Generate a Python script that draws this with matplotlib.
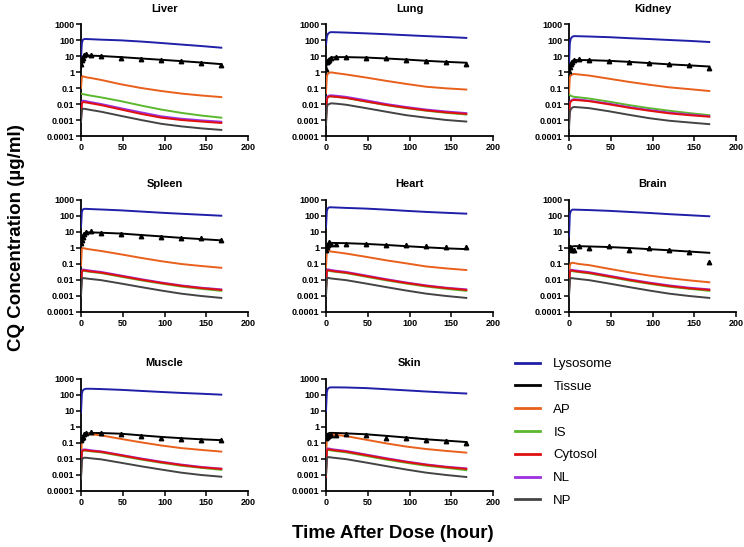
import matplotlib
matplotlib.use("Agg")
import matplotlib.pyplot as plt
from matplotlib.lines import Line2D

# ---------------- data ----------------
organs = ["Liver", "Lung", "Kidney", "Spleen", "Heart", "Brain", "Muscle", "Skin"]
series_names = ["Lysosome", "Tissue", "AP", "IS", "Cytosol", "NL", "NP"]
series_colors = ["#1f1fa8", "#000000", "#e8601c", "#5cb82e", "#e01010", "#9b30e0", "#444444"]

t_model = [0, 1, 2, 4, 6, 12, 24, 48, 72, 96, 120, 144, 168]
t_obs = [0.5, 1, 2, 4, 6, 12, 24, 48, 72, 96, 120, 144, 168]

# Liver
liver_lys = [8, 60, 100, 115, 115, 112, 105, 95, 80, 65, 52, 42, 33]
liver_tis = [1.5, 6, 9, 11, 11, 10.5, 10, 8.5, 7, 5.8, 4.8, 3.9, 3.1]
liver_ap = [0.1, 0.45, 0.55, 0.5, 0.47, 0.42, 0.32, 0.17, 0.1, 0.065, 0.045, 0.034, 0.027]
liver_is = [0.045, 0.043, 0.042, 0.04, 0.038, 0.033, 0.026, 0.015, 0.008, 0.0045, 0.0028, 0.0019, 0.0014]
liver_cyt = [0.001, 0.01, 0.013, 0.013, 0.0125, 0.011, 0.0085, 0.0045, 0.0024, 0.0014, 0.001, 0.0008, 0.00065]
liver_nl = [0.002, 0.013, 0.016, 0.016, 0.015, 0.013, 0.01, 0.0054, 0.003, 0.0017, 0.0012, 0.00095, 0.00078]
liver_np = [0.0008, 0.004, 0.005, 0.005, 0.0048, 0.0042, 0.0033, 0.0018, 0.001, 0.00058, 0.0004, 0.0003, 0.00024]
liver_obs = [3, 6, 7, 12, 14, 12, 9.5, 8, 6.5, 5.5, 4.8, 3.8, 2.9]

# Lung
lung_lys = [50, 150, 230, 290, 310, 305, 290, 260, 230, 200, 175, 155, 135]
lung_tis = [1.5, 4, 5.5, 7, 8, 8.5, 8.5, 8, 7, 6, 5, 4.3, 3.8]
lung_ap = [0.05, 0.5, 0.75, 0.9, 0.95, 0.85, 0.7, 0.45, 0.28, 0.18, 0.12, 0.095, 0.08]
lung_is = [0.001, 0.02, 0.028, 0.03, 0.03, 0.028, 0.024, 0.014, 0.0085, 0.0055, 0.0038, 0.0028, 0.0022]
lung_cyt = [0.0008, 0.018, 0.026, 0.03, 0.03, 0.028, 0.024, 0.0145, 0.0088, 0.0058, 0.004, 0.003, 0.0024]
lung_nl = [0.002, 0.022, 0.03, 0.034, 0.035, 0.033, 0.028, 0.017, 0.01, 0.0065, 0.0045, 0.0034, 0.0027]
lung_np = [0.0005, 0.006, 0.009, 0.01, 0.011, 0.0105, 0.009, 0.0055, 0.0033, 0.002, 0.0014, 0.001, 0.0008]
lung_obs = [1.5, 4, 5, 6, 8, 8.5, 8.5, 8, 7, 6, 5, 4.3, 3]

# Kidney
kidney_lys = [3, 60, 120, 160, 175, 172, 165, 150, 130, 115, 100, 88, 75]
kidney_tis = [1.2, 2.5, 3.5, 5, 5.5, 5.6, 5.5, 5, 4.3, 3.6, 3, 2.6, 2.2]
kidney_ap = [0.05, 0.45, 0.6, 0.7, 0.75, 0.7, 0.6, 0.38, 0.24, 0.16, 0.11, 0.085, 0.065]
kidney_is = [0.04, 0.036, 0.033, 0.03, 0.028, 0.026, 0.022, 0.014, 0.0085, 0.0055, 0.0038, 0.0027, 0.002]
kidney_cyt = [0.0006, 0.01, 0.014, 0.017, 0.018, 0.017, 0.015, 0.0095, 0.0058, 0.0038, 0.0026, 0.002, 0.0016]
kidney_nl = [0.001, 0.012, 0.016, 0.019, 0.02, 0.019, 0.016, 0.0105, 0.0064, 0.0042, 0.0029, 0.0022, 0.0017]
kidney_np = [0.0003, 0.003, 0.0045, 0.006, 0.0065, 0.0062, 0.0055, 0.0035, 0.0021, 0.0013, 0.0009, 0.0007, 0.00055]
kidney_obs = [1.2, 2, 3, 4.5, 6, 6.5, 5.5, 5, 4, 3.5, 3.2, 2.8, 1.8]

# Spleen
spleen_lys = [20, 180, 250, 280, 280, 270, 255, 225, 190, 160, 138, 120, 104]
spleen_tis = [1.5, 4, 6, 8.5, 9.5, 9.5, 9, 8, 6.5, 5.3, 4.3, 3.6, 3]
spleen_ap = [0.08, 0.8, 1.0, 0.95, 0.9, 0.8, 0.65, 0.4, 0.24, 0.15, 0.1, 0.075, 0.058]
spleen_is = [0.003, 0.03, 0.037, 0.037, 0.035, 0.032, 0.027, 0.016, 0.0095, 0.006, 0.0039, 0.0028, 0.0021]
spleen_cyt = [0.002, 0.032, 0.04, 0.04, 0.038, 0.034, 0.029, 0.0175, 0.0104, 0.0065, 0.0043, 0.0031, 0.0024]
spleen_nl = [0.004, 0.036, 0.045, 0.044, 0.042, 0.038, 0.032, 0.019, 0.0113, 0.007, 0.0046, 0.0033, 0.0026]
spleen_np = [0.001, 0.01, 0.013, 0.013, 0.0125, 0.0115, 0.0098, 0.006, 0.0036, 0.0022, 0.0014, 0.001, 0.00076]
spleen_obs = [2, 3, 5, 8, 10, 11, 8.5, 7.5, 6, 5, 4.5, 4, 3]

# Heart
heart_lys = [20, 200, 300, 350, 350, 340, 320, 290, 250, 210, 180, 158, 140]
heart_tis = [0.6, 1.3, 1.8, 2.1, 2.1, 2.05, 2, 1.8, 1.55, 1.3, 1.1, 0.95, 0.85]
heart_ap = [0.06, 0.55, 0.7, 0.65, 0.6, 0.55, 0.45, 0.28, 0.17, 0.11, 0.07, 0.053, 0.042]
heart_is = [0.003, 0.032, 0.038, 0.037, 0.035, 0.032, 0.027, 0.016, 0.0095, 0.006, 0.0039, 0.0028, 0.0021]
heart_cyt = [0.002, 0.034, 0.041, 0.04, 0.038, 0.034, 0.029, 0.0175, 0.0104, 0.0065, 0.0043, 0.0031, 0.0024]
heart_nl = [0.004, 0.038, 0.046, 0.045, 0.042, 0.038, 0.032, 0.019, 0.0113, 0.007, 0.0046, 0.0033, 0.0026]
heart_np = [0.001, 0.011, 0.014, 0.013, 0.0125, 0.0115, 0.0098, 0.006, 0.0036, 0.0022, 0.0014, 0.001, 0.00076]
heart_obs = [0.8, 1.1, 1.5, 2.5, 1.9, 1.8, 1.7, 1.7, 1.6, 1.45, 1.3, 1.2, 1.15]

# Brain
brain_lys = [5, 120, 200, 250, 250, 245, 235, 210, 180, 155, 130, 112, 96]
brain_tis = [1.0, 1.1, 1.2, 1.25, 1.3, 1.3, 1.25, 1.15, 1.0, 0.85, 0.72, 0.6, 0.5]
brain_ap = [0.01, 0.08, 0.11, 0.12, 0.115, 0.1, 0.085, 0.05, 0.03, 0.019, 0.013, 0.0095, 0.0072]
brain_is = [0.002, 0.03, 0.036, 0.036, 0.034, 0.031, 0.026, 0.0155, 0.0092, 0.0058, 0.0038, 0.0028, 0.0021]
brain_cyt = [0.0015, 0.032, 0.039, 0.039, 0.037, 0.033, 0.028, 0.017, 0.01, 0.0063, 0.0042, 0.003, 0.0024]
brain_nl = [0.003, 0.035, 0.043, 0.043, 0.041, 0.037, 0.031, 0.0185, 0.011, 0.0069, 0.0046, 0.0033, 0.0026]
brain_np = [0.001, 0.01, 0.013, 0.013, 0.0125, 0.0115, 0.0098, 0.006, 0.0036, 0.0022, 0.0014, 0.001, 0.00076]
brain_obs = [1.0, 1.1, 0.95, 0.75, 0.8, 1.3, 1.0, 1.4, 0.8, 1.05, 0.8, 0.55, 0.14]

# Muscle
muscle_lys = [8, 120, 190, 230, 245, 245, 235, 210, 180, 155, 135, 120, 105]
muscle_tis = [0.1, 0.18, 0.25, 0.33, 0.38, 0.42, 0.42, 0.38, 0.3, 0.24, 0.2, 0.17, 0.15]
muscle_ap = [0.01, 0.15, 0.25, 0.33, 0.36, 0.35, 0.3, 0.18, 0.11, 0.07, 0.048, 0.037, 0.029]
muscle_is = [0.001, 0.025, 0.032, 0.034, 0.033, 0.03, 0.026, 0.0155, 0.0092, 0.0058, 0.0038, 0.0028, 0.0021]
muscle_cyt = [0.0008, 0.026, 0.034, 0.036, 0.035, 0.032, 0.028, 0.017, 0.01, 0.0063, 0.0042, 0.003, 0.0024]
muscle_nl = [0.002, 0.03, 0.038, 0.04, 0.039, 0.035, 0.03, 0.018, 0.0108, 0.0068, 0.0045, 0.0032, 0.0025]
muscle_np = [0.0006, 0.008, 0.011, 0.012, 0.012, 0.011, 0.0095, 0.0058, 0.0035, 0.0022, 0.0014, 0.001, 0.00078]
muscle_obs = [0.15, 0.2, 0.25, 0.35, 0.45, 0.5, 0.45, 0.38, 0.28, 0.22, 0.18, 0.16, 0.16]

# Skin
skin_lys = [10, 150, 240, 290, 300, 300, 295, 270, 230, 195, 165, 142, 124]
skin_tis = [0.15, 0.3, 0.38, 0.42, 0.43, 0.42, 0.4, 0.35, 0.28, 0.22, 0.17, 0.14, 0.115]
skin_ap = [0.01, 0.15, 0.25, 0.32, 0.34, 0.32, 0.27, 0.16, 0.095, 0.06, 0.042, 0.032, 0.025]
skin_is = [0.001, 0.03, 0.036, 0.036, 0.034, 0.031, 0.026, 0.0155, 0.0092, 0.0058, 0.0038, 0.0028, 0.002]
skin_cyt = [0.0008, 0.032, 0.04, 0.04, 0.038, 0.034, 0.029, 0.0175, 0.0104, 0.0065, 0.0043, 0.0031, 0.0024]
skin_nl = [0.002, 0.036, 0.045, 0.045, 0.042, 0.038, 0.032, 0.019, 0.0113, 0.007, 0.0046, 0.0033, 0.0026]
skin_np = [0.001, 0.01, 0.013, 0.013, 0.0125, 0.0115, 0.0098, 0.006, 0.0036, 0.0022, 0.0014, 0.001, 0.00075]
skin_obs = [0.2, 0.25, 0.28, 0.3, 0.33, 0.3, 0.35, 0.3, 0.22, 0.2, 0.16, 0.13, 0.1]

organ_series = {
    "Liver": [liver_lys, liver_tis, liver_ap, liver_is, liver_cyt, liver_nl, liver_np],
    "Lung": [lung_lys, lung_tis, lung_ap, lung_is, lung_cyt, lung_nl, lung_np],
    "Kidney": [kidney_lys, kidney_tis, kidney_ap, kidney_is, kidney_cyt, kidney_nl, kidney_np],
    "Spleen": [spleen_lys, spleen_tis, spleen_ap, spleen_is, spleen_cyt, spleen_nl, spleen_np],
    "Heart": [heart_lys, heart_tis, heart_ap, heart_is, heart_cyt, heart_nl, heart_np],
    "Brain": [brain_lys, brain_tis, brain_ap, brain_is, brain_cyt, brain_nl, brain_np],
    "Muscle": [muscle_lys, muscle_tis, muscle_ap, muscle_is, muscle_cyt, muscle_nl, muscle_np],
    "Skin": [skin_lys, skin_tis, skin_ap, skin_is, skin_cyt, skin_nl, skin_np],
}
organ_obs = {
    "Liver": liver_obs, "Lung": lung_obs, "Kidney": kidney_obs, "Spleen": spleen_obs,
    "Heart": heart_obs, "Brain": brain_obs, "Muscle": muscle_obs, "Skin": skin_obs,
}

y_ticks = [0.0001, 0.001, 0.01, 0.1, 1, 10, 100, 1000]
y_tick_labels = ["0.0001", "0.001", "0.01", "0.1", "1", "10", "100", "1000"]
x_ticks = [0, 50, 100, 150, 200]

# ---------------- figure ----------------
plt.rcParams["font.family"] = ["Liberation Sans", "DejaVu Sans"]
W, H = 744, 547
fig = plt.figure(figsize=(W / 100, H / 100), dpi=100)

col_left = [81, 326, 569]
row_bottom = [136, 312, 491]
ax_w, ax_h = 167, 112

draw_order = [0, 1, 2, 3, 5, 4, 6]

for i, organ in enumerate(organs):
    r, c = divmod(i, 3)
    left = col_left[c] / W
    bottom = 1 - row_bottom[r] / H
    ax = fig.add_axes([left, bottom, ax_w / W, ax_h / H])
    data = organ_series[organ]
    for k in draw_order:
        ax.plot(t_model, data[k], color=series_colors[k], lw=1.4, zorder=3)
    ax.plot(t_obs, organ_obs[organ], linestyle="none", marker="^", ms=3.2,
            color="black", zorder=4)
    ax.set_yscale("log")
    ax.set_ylim(1e-4, 1e3)
    ax.set_xlim(0, 200)
    ax.set_yticks(y_ticks)
    ax.set_yticklabels(y_tick_labels)
    ax.minorticks_off()
    ax.set_xticks(x_ticks)
    ax.set_xticklabels([str(x) for x in x_ticks])
    for s in ["top", "right"]:
        ax.spines[s].set_visible(False)
    for s in ["left", "bottom"]:
        ax.spines[s].set_linewidth(1.3)
    ax.tick_params(axis="both", direction="out", length=3.5, width=1.1,
                   labelsize=6.5, pad=1.5)
    for lab in ax.get_xticklabels() + ax.get_yticklabels():
        lab.set_fontweight("bold")
    ax.set_title(organ, fontsize=8, fontweight="bold", pad=9)

fig.text(17 / W, 1 - 238 / H, "CQ Concentration (µg/ml)", rotation=90,
         ha="center", va="center", fontsize=13.5, fontweight="bold")
fig.text(393 / W, 1 - 533 / H, "Time After Dose (hour)", ha="center",
         va="center", fontsize=13.5, fontweight="bold")

handles = [Line2D([0], [0], color=col, lw=2) for col in series_colors]
fig.legend(handles, series_names, loc="upper left",
           bbox_to_anchor=(515 / W, 1 - 358 / H), frameon=False,
           fontsize=9.5, handlelength=1.9, handletextpad=1.0,
           labelspacing=0.8, borderaxespad=0, borderpad=0)

fig.savefig("out.png", dpi=100)
